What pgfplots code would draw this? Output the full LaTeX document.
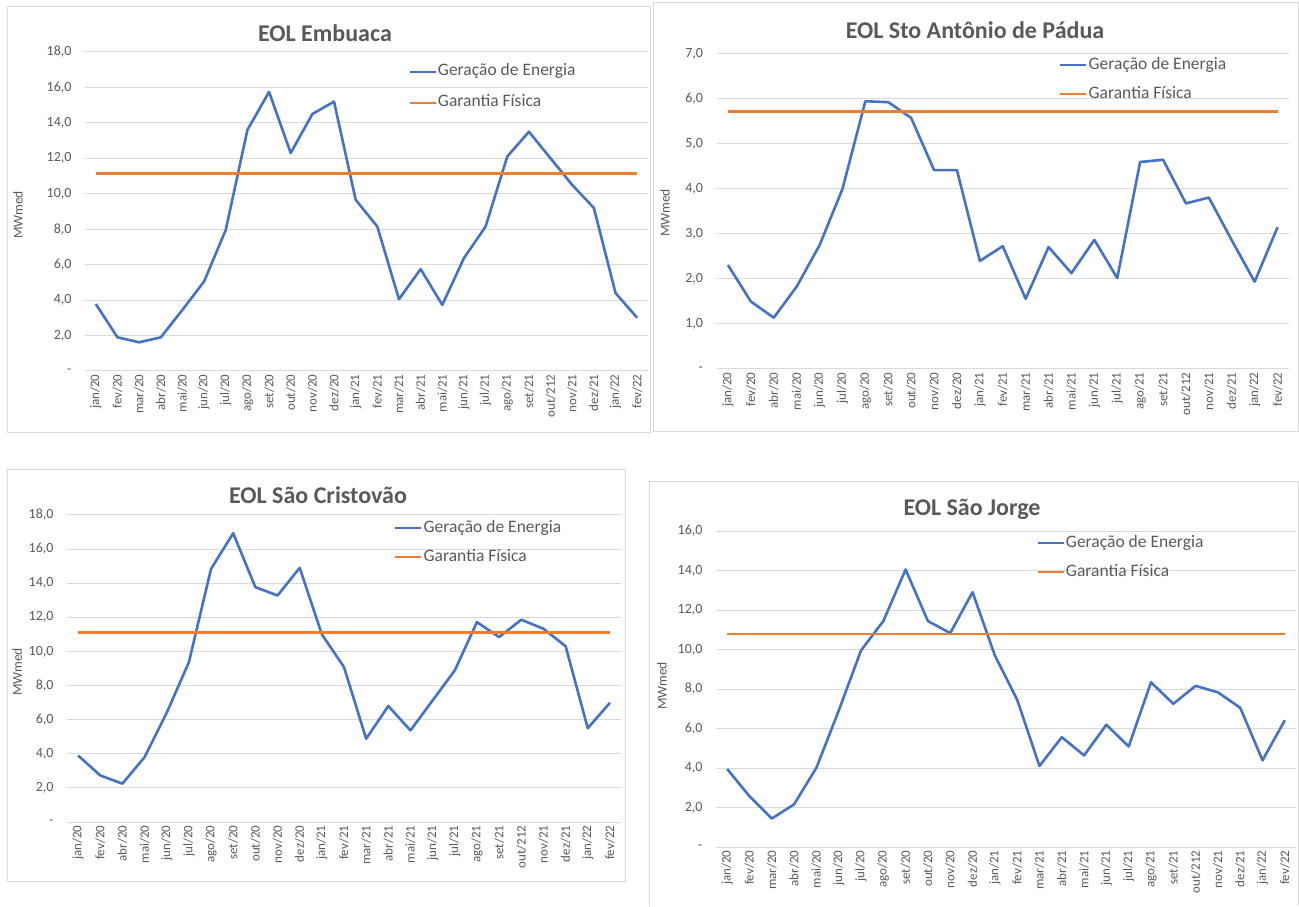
\documentclass[border=0pt]{standalone}
\usepackage{fontspec}
\setmainfont{Carlito}
\usepackage{pgfplots}
\usepackage{pgfplotstable}
\pgfplotsset{compat=1.18}

\definecolor{txt}{HTML}{595959}
\definecolor{grd}{HTML}{D9D9D9}
\definecolor{azul}{HTML}{4472C4}
\definecolor{laranja}{HTML}{ED7D31}

% geracao mensal (MWmed)
\pgfplotstableread{
i mes ger
0 jan/20 3.78
1 fev/20 1.90
2 mar/20 1.62
3 abr/20 1.90
4 mai/20 3.45
5 jun/20 5.05
6 jul/20 7.96
7 ago/20 13.60
8 set/20 15.75
9 out/20 12.30
10 nov/20 14.50
11 dez/20 15.20
12 jan/21 9.66
13 fev/21 8.15
14 mar/21 4.05
15 abr/21 5.75
16 mai/21 3.73
17 jun/21 6.37
18 jul/21 8.15
19 ago/21 12.10
20 set/21 13.50
21 out/212 12.00
22 nov/21 10.50
23 dez/21 9.20
24 jan/22 4.40
25 fev/22 3.00
}\embuaca

\pgfplotstableread{
i mes ger
0 jan/20 2.31
1 fev/20 1.50
2 abr/20 1.14
3 mai/20 1.83
4 jun/20 2.75
5 jul/20 4.00
6 ago/20 5.95
7 set/20 5.93
8 out/20 5.58
9 nov/20 4.42
10 dez/20 4.42
11 jan/21 2.40
12 fev/21 2.73
13 mar/21 1.56
14 abr/21 2.71
15 mai/21 2.13
16 jun/21 2.87
17 jul/21 2.02
18 ago/21 4.60
19 set/21 4.65
20 out/212 3.68
21 nov/21 3.81
22 dez/21 2.86
23 jan/22 1.94
24 fev/22 3.15
}\padua

\pgfplotstableread{
i mes ger
0 jan/20 3.90
1 fev/20 2.73
2 abr/20 2.25
3 mai/20 3.80
4 jun/20 6.40
5 jul/20 9.37
6 ago/20 14.84
7 set/20 16.93
8 out/20 13.77
9 nov/20 13.28
10 dez/20 14.90
11 jan/21 11.00
12 fev/21 9.08
13 mar/21 4.88
14 abr/21 6.80
15 mai/21 5.37
16 jun/21 7.13
17 jul/21 8.89
18 ago/21 11.72
19 set/21 10.84
20 out/212 11.86
21 nov/21 11.33
22 dez/21 10.31
23 jan/22 5.50
24 fev/22 6.99
}\cristovao

\pgfplotstableread{
i mes ger
0 jan/20 3.95
1 fev/20 2.57
2 mar/20 1.44
3 abr/20 2.16
4 mai/20 4.01
5 jun/20 6.90
6 jul/20 9.95
7 ago/20 11.44
8 set/20 14.05
9 out/20 11.44
10 nov/20 10.83
11 dez/20 12.90
12 jan/21 9.70
13 fev/21 7.46
14 mar/21 4.10
15 abr/21 5.56
16 mai/21 4.64
17 jun/21 6.19
18 jul/21 5.09
19 ago/21 8.34
20 set/21 7.25
21 out/212 8.16
22 nov/21 7.83
23 dez/21 7.05
24 jan/22 4.39
25 fev/22 6.42
}\jorge

\pgfplotsset{
  painel/.style={
    scale only axis, anchor=south west,
    xmin=-0.5, ymin=0,
    axis x line=bottom, axis y line=left,
    axis line style={draw=none},
    major tick length=0pt,
    ymajorgrids, grid style={grd, line width=1pt},
    xticklabel style={rotate=90, anchor=east, font=\fontsize{13}{15}\selectfont, text=txt},
    yticklabel style={font=\fontsize{14}{16}\selectfont, text=txt, xshift=-10pt},
    ylabel style={font=\fontsize{13.5}{16}\selectfont, text=txt, anchor=center},
    ylabel={MWmed},
    legend style={draw=none, fill=none, anchor=west, inner sep=0pt,
      font=\fontsize{17.5}{20}\selectfont, text=txt, row sep=11pt,
      nodes={inner sep=1pt, text height=12pt, text depth=4pt}},
    legend cell align=left,
    legend image code/.code={\draw[##1, line width=2.6pt] (0pt,0pt) -- (26pt,0pt);},
  },
  ger/.style={azul, line width=2.6pt, line join=round, no marks},
  gar/.style={laranja, line width=2.6pt, no marks},
}

\begin{document}
\begin{tikzpicture}
\useasboundingbox (0pt,0pt) rectangle (1299pt,906pt);
% molduras
\draw[grd, line width=1pt] (7pt,473pt) rectangle (650pt,899pt);
\draw[grd, line width=1pt] (653pt,474pt) rectangle (1298.5pt,903pt);
\draw[grd, line width=1pt] (7pt,25pt) rectangle (625pt,436pt);
\draw[grd, line width=1pt] (649pt,0pt) -- (649pt,424pt) -- (1298.5pt,424pt) -- (1298.5pt,0pt);

% titulos
\node[font=\fontsize{24}{28}\selectfont\bfseries, text=txt] at (325pt,873pt) {EOL Embuaca};
\node[font=\fontsize{24}{28}\selectfont\bfseries, text=txt] at (975pt,876pt) {EOL Sto Antônio de Pádua};
\node[font=\fontsize{24}{28}\selectfont\bfseries, text=txt] at (318pt,411pt) {EOL São Cristovão};
\node[font=\fontsize{24}{28}\selectfont\bfseries, text=txt] at (972pt,397pt) {EOL São Jorge};

\begin{axis}[painel, at={(85pt,535pt)}, width=563pt, height=319pt,
  xmax=25.5, ymax=18,
  xtick={0,...,25}, xticklabels from table={\embuaca}{mes},
  ytick={0,2,...,18},
  yticklabels={{-\hspace{5pt}},{2,0},{4,0},{6,0},{8,0},{10,0},{12,0},{14,0},{16,0},{18,0}},
  ylabel style={at={(axis description cs:-0.119,0.489)}},
  legend style={at={(axis description cs:0.574,0.889)}, row sep=13pt},
]
\addplot[ger] table[x=i, y=ger] {\embuaca};
\addlegendentry{Geração de Energia}
\addplot[gar] coordinates {(0,11.13) (25,11.13)};
\addlegendentry{Garantia Física}
\end{axis}

\begin{axis}[painel, at={(716.5pt,537pt)}, width=572.5pt, height=315pt,
  xmax=24.5, ymax=7,
  xtick={0,...,24}, xticklabels from table={\padua}{mes},
  ytick={0,1,...,7},
  yticklabels={{-\hspace{5pt}},{1,0},{2,0},{3,0},{4,0},{5,0},{6,0},{7,0}},
  ylabel style={at={(axis description cs:-0.09,0.495)}},
  legend style={at={(axis description cs:0.598,0.919)}},
]
\addplot[ger] table[x=i, y=ger] {\padua};
\addlegendentry{Geração de Energia}
\addplot[gar] coordinates {(0,5.72) (24,5.72)};
\addlegendentry{Garantia Física}
\end{axis}

\begin{axis}[painel, at={(67pt,84pt)}, width=554pt, height=307pt,
  xmax=24.5, ymax=18,
  xtick={0,...,24}, xticklabels from table={\cristovao}{mes},
  ytick={0,2,...,18},
  yticklabels={{-\hspace{5pt}},{2,0},{4,0},{6,0},{8,0},{10,0},{12,0},{14,0},{16,0},{18,0}},
  ylabel style={at={(axis description cs:-0.09,0.489)}},
  legend style={at={(axis description cs:0.590,0.910)}},
]
\addplot[ger] table[x=i, y=ger] {\cristovao};
\addlegendentry{Geração de Energia}
\addplot[gar] coordinates {(0,11.11) (24,11.11)};
\addlegendentry{Garantia Física}
\end{axis}

\begin{axis}[painel, at={(716pt,59pt)}, width=580pt, height=316pt,
  xmax=25.5, ymax=16,
  xtick={0,...,25}, xticklabels from table={\jorge}{mes},
  ytick={0,2,...,16},
  yticklabels={{-\hspace{5pt}},{2,0},{4,0},{6,0},{8,0},{10,0},{12,0},{14,0},{16,0}},
  ylabel style={at={(axis description cs:-0.093,0.51)}},
  legend style={at={(axis description cs:0.552,0.916)}},
]
\addplot[ger] table[x=i, y=ger] {\jorge};
\addlegendentry{Geração de Energia}
\addplot[gar] coordinates {(0,10.78) (25,10.78)};
\addlegendentry{Garantia Física}
\end{axis}
\end{tikzpicture}
\end{document}
